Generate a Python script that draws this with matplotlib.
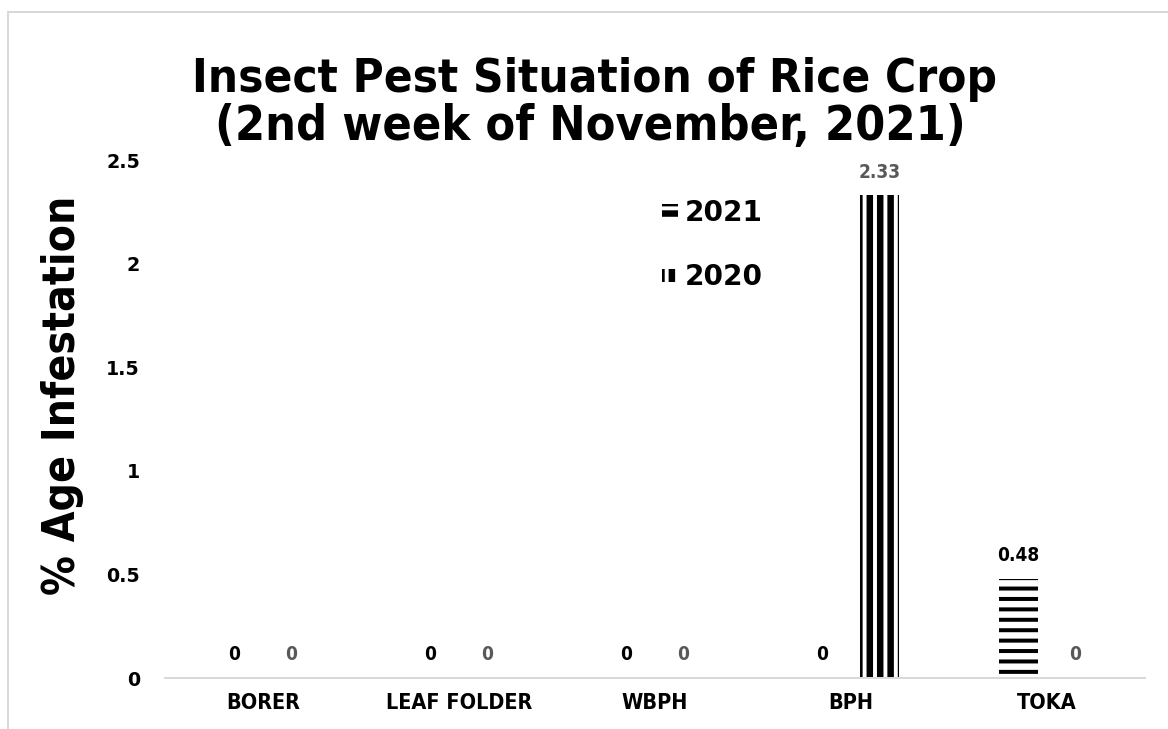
import matplotlib
matplotlib.use("Agg")
import matplotlib.pyplot as plt
import numpy as np
from matplotlib import font_manager
from matplotlib.patches import Rectangle

# data
categories = ["BORER", "LEAF FOLDER", "WBPH", "BPH", "TOKA"]
values_2021 = [0, 0, 0, 0, 0.48]
values_2020 = [0, 0, 0, 2.33, 0]
series_labels = ["2021", "2020"]
title_lines = ["Insect Pest Situation of Rice Crop", "(2nd week of November, 2021)"]
y_label = "% Age Infestation"
y_ticks = [0, 0.5, 1, 1.5, 2, 2.5]
y_tick_labels = ["0", "0.5", "1", "1.5", "2", "2.5"]

DPI = 125
W, H = 1168, 729


def pt(px):
    # pixel size -> points at our dpi
    return px * 72 / DPI


def narrow_bold_font():
    """Look for a bold condensed face (the title in the original is a squeezed Tahoma)."""
    best = None
    for f in font_manager.fontManager.ttflist:
        path = f.fname.lower()
        if not any(k in path for k in ("condensed", "narrow")):
            continue
        if "extra" in path or "ultra" in path or "semi" in path or "italic" in path:
            continue
        if not any(k in path for k in ("bold", "black")):
            continue
        if "semibold" in path or "extrabold" in path:
            continue
        if best is None or "noto" in path or "liberation" in path:
            best = f.fname
    if best is None:
        return font_manager.FontProperties(family="DejaVu Sans", weight="bold")
    return font_manager.FontProperties(fname=best)


def fit_length(txt, target_px, renderer, vertical=False):
    for _ in range(3):
        bb = txt.get_window_extent(renderer)
        size = bb.height if vertical else bb.width
        txt.set_fontsize(txt.get_fontsize() * target_px / size)


def font_at(fp, size_px):
    f = fp.copy()
    f.set_size(pt(size_px))
    return f


plt.rcParams["font.family"] = "DejaVu Sans"
plt.rcParams["font.weight"] = "bold"
nfont = narrow_bold_font()

fig = plt.figure(figsize=(W / DPI, H / DPI), dpi=DPI)
ax = fig.add_axes([165 / W, 51 / H, 980 / W, 518 / H])

x = np.arange(len(categories))
bar_w = 0.2
offset = 0.145

plt.rcParams["hatch.linewidth"] = pt(4)
bars_2021 = ax.bar(x - offset, values_2021, bar_w, color="white", edgecolor="black",
                   hatch="--", linewidth=0, label=series_labels[0])
plt.rcParams["hatch.linewidth"] = pt(6.5)
bars_2020 = ax.bar(x + offset, values_2020, bar_w, color="white", edgecolor="black",
                   hatch="||", linewidth=0, label=series_labels[1])
for bars, lw in [(bars_2021, pt(4)), (bars_2020, pt(6.5))]:
    for b in bars:
        if hasattr(b, "set_hatch_linewidth"):
            b.set_hatch_linewidth(lw)

# value labels
for bars, vals, col in [(bars_2021, values_2021, "black"), (bars_2020, values_2020, "#595959")]:
    for b, v in zip(bars, vals):
        ax.annotate(f"{v:g}", (b.get_x() + b.get_width() / 2, v), xytext=(0, pt(23)),
                    textcoords="offset points", ha="center", va="center",
                    fontproperties=font_at(nfont, 19), color=col)

ax.set_xlim(-0.5, len(categories) - 0.5)
ax.set_ylim(0, 2.5)
ax.set_xticks(x)
ax.set_xticklabels(categories, fontproperties=font_at(nfont, 21.5))
ax.set_yticks(y_ticks)
ax.set_yticklabels(y_tick_labels, fontsize=pt(19), fontweight="bold")
ax.tick_params(axis="both", length=0)
ax.tick_params(axis="y", pad=pt(25))
ax.tick_params(axis="x", pad=pt(15))
for side in ["top", "left", "right"]:
    ax.spines[side].set_visible(False)
ax.spines["bottom"].set_color("#d9d9d9")
ax.spines["bottom"].set_linewidth(pt(2))

ax.legend(frameon=False, loc="upper left", bbox_to_anchor=(662 / W, 1 - 199 / H),
          bbox_transform=fig.transFigure, prop=dict(weight="bold", size=pt(28)),
          handlelength=16 / 28, handleheight=10 / 28, handletextpad=7 / 28,
          labelspacing=1.3, borderpad=0, borderaxespad=0)

renderer = fig.canvas.get_renderer()

t1 = fig.text(595 / W, 1 - 92 / H, title_lines[0], ha="center", va="baseline",
              fontproperties=nfont.copy())
t2 = fig.text(590 / W, 1 - 140 / H, title_lines[1], ha="center", va="baseline",
              fontproperties=nfont.copy())
fit_length(t1, 805, renderer)
fit_length(t2, 751, renderer)

yl = fig.text(63 / W, 1 - 395 / H, y_label, rotation=90, ha="center", va="center",
              fontproperties=nfont.copy())
fit_length(yl, 400, renderer, vertical=True)

# light grey chart-area border (cut off at right and bottom)
fig.patches.append(Rectangle((8 / W, -0.05), 1.2, 1 - 12 / H + 0.05, transform=fig.transFigure,
                             fill=False, edgecolor="#d9d9d9", linewidth=pt(2)))

fig.savefig("out.png", dpi=DPI)
